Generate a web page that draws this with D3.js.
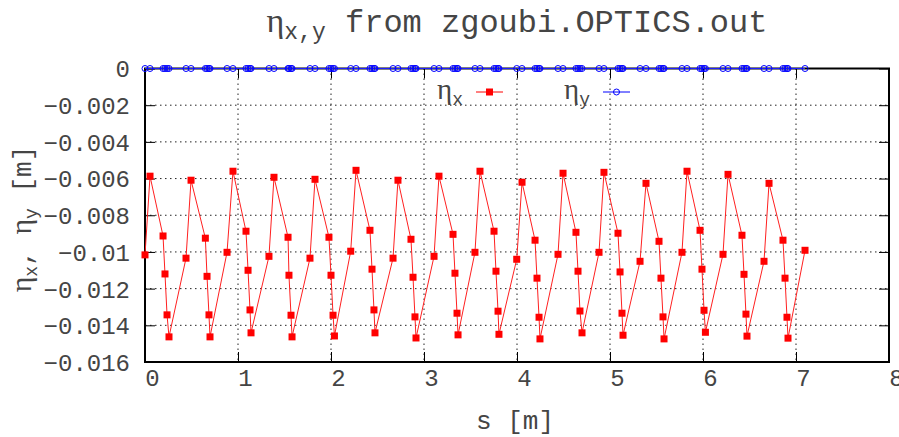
<!DOCTYPE html>
<html>
<head>
<meta charset="utf-8">
<script src="https://cdn.jsdelivr.net/npm/d3@7"></script>
<style>
  body { margin: 0; background: #fff; }
  text { font-family: "Liberation Mono", monospace; fill: #454545; }
  .greek { font-family: "Liberation Serif", serif; }
</style>
</head>
<body>
<div id="chart-area"></div>
<script>
// positions along the ring [m]
var sPos = [
  0.000, 0.054, 0.194, 0.215, 0.237, 0.258, 0.441,
  0.495, 0.649, 0.667, 0.688, 0.699, 0.882,
  0.946, 1.086, 1.108, 1.129, 1.140, 1.333,
  1.387, 1.538, 1.548, 1.570, 1.581, 1.774,
  1.828, 1.978, 2.000, 2.022, 2.037, 2.212,
  2.269, 2.419, 2.441, 2.462, 2.473, 2.667,
  2.720, 2.860, 2.882, 2.903, 2.914, 3.108,
  3.161, 3.312, 3.333, 3.355, 3.366, 3.548,
  3.602, 3.753, 3.774, 3.796, 3.806, 3.997,
  4.054, 4.194, 4.215, 4.237, 4.247, 4.441,
  4.495, 4.634, 4.656, 4.677, 4.699, 4.882,
  4.935, 5.086, 5.108, 5.129, 5.140, 5.323,
  5.387, 5.527, 5.548, 5.570, 5.581, 5.774,
  5.828, 5.968, 5.989, 6.011, 6.026, 6.215,
  6.269, 6.419, 6.441, 6.462, 6.473, 6.656,
  6.710, 6.860, 6.882, 6.903, 6.914, 7.097
];

var etaX = [
  -0.01016, -0.00587, -0.00913, -0.01120, -0.01343, -0.01463, -0.01034,
  -0.00609, -0.00925, -0.01133, -0.01343, -0.01463, -0.01002,
  -0.00560, -0.00887, -0.01100, -0.01316, -0.01441, -0.01024,
  -0.00593, -0.00920, -0.01127, -0.01345, -0.01463, -0.01034,
  -0.00604, -0.00920, -0.01127, -0.01345, -0.01458, -0.00996,
  -0.00555, -0.00882, -0.01094, -0.01316, -0.01441, -0.01034,
  -0.00609, -0.00931, -0.01138, -0.01354, -0.01469, -0.01024,
  -0.00587, -0.00904, -0.01116, -0.01334, -0.01452, -0.01002,
  -0.00560, -0.00887, -0.01105, -0.01323, -0.01449, -0.01040,
  -0.00620, -0.00936, -0.01143, -0.01356, -0.01474, -0.01013,
  -0.00571, -0.00893, -0.01105, -0.01322, -0.01441, -0.01002,
  -0.00566, -0.00898, -0.01109, -0.01334, -0.01454, -0.01051,
  -0.00626, -0.00942, -0.01143, -0.01354, -0.01474, -0.01002,
  -0.00560, -0.00882, -0.01094, -0.01318, -0.01438, -0.01013,
  -0.00577, -0.00909, -0.01122, -0.01339, -0.01459, -0.01051,
  -0.00626, -0.00936, -0.01143, -0.01356, -0.01470, -0.00991
];

var etaY = [
  0, 0, 0, 0, 0, 0, 0,
  0, 0, 0, 0, 0, 0,
  0, 0, 0, 0, 0, 0,
  0, 0, 0, 0, 0, 0,
  0, 0, 0, 0, 0, 0,
  0, 0, 0, 0, 0, 0,
  0, 0, 0, 0, 0, 0,
  0, 0, 0, 0, 0, 0,
  0, 0, 0, 0, 0, 0,
  0, 0, 0, 0, 0, 0,
  0, 0, 0, 0, 0, 0,
  0, 0, 0, 0, 0, 0,
  0, 0, 0, 0, 0, 0,
  0, 0, 0, 0, 0, 0,
  0, 0, 0, 0, 0, 0,
  0, 0, 0, 0, 0, 0
];

var xTicks = [0, 1, 2, 3, 4, 5, 6, 7, 8];
var xTickLabels = ["0", "1", "2", "3", "4", "5", "6", "7", "8"];
var yTicks = [0, -0.002, -0.004, -0.006, -0.008, -0.01, -0.012, -0.014, -0.016];
var yTickLabels = ["0", "\u22120.002", "\u22120.004", "\u22120.006", "\u22120.008",
                   "\u22120.01", "\u22120.012", "\u22120.014", "\u22120.016"];

var W = 899, H = 437;
var margin = {left: 145, right: 10, top: 68.5, bottom: 75};
var width = W - margin.left - margin.right;
var height = H - margin.top - margin.bottom;

var svg = d3.select("#chart-area")
    .append("svg")
    .attr("width", W)
    .attr("height", H);

var g = svg.append("g")
    .attr("transform", "translate(" + margin.left + "," + margin.top + ")");

var x = d3.scaleLinear().domain([0, 8]).range([0, width]);
var y = d3.scaleLinear().domain([-0.016, 0]).range([height, 0]);

// dotted grid
g.append("g").selectAll("line")
    .data(xTicks.slice(1, -1))
    .enter().append("line")
    .attr("x1", function(d){ return x(d); })
    .attr("x2", function(d){ return x(d); })
    .attr("y1", 0).attr("y2", height)
    .attr("stroke", "#222").attr("stroke-width", 1)
    .attr("stroke-dasharray", "1.5,3.5");

g.append("g").selectAll("line")
    .data(yTicks.slice(1, -1))
    .enter().append("line")
    .attr("y1", function(d){ return y(d); })
    .attr("y2", function(d){ return y(d); })
    .attr("x1", 0).attr("x2", width)
    .attr("stroke", "#222").attr("stroke-width", 1)
    .attr("stroke-dasharray", "1.5,3.5");

// axes with inward ticks on all four sides
var tickLen = 10;
var xAxisCall = d3.axisBottom(x).tickValues(xTicks).tickSizeInner(-tickLen).tickSizeOuter(0)
    .tickFormat(function(d, i){ return xTickLabels[i]; });
var xAxis = g.append("g")
    .attr("transform", "translate(0," + height + ")")
    .call(xAxisCall);
xAxis.select(".domain").remove();
xAxis.selectAll("line").attr("stroke", "#000");
xAxis.selectAll("text")
    .attr("y", 24)
    .attr("dy", 0)
    .attr("x", 7)
    .attr("font-size", "24px")
    .attr("fill", "#454545")
    .attr("font-family", "Liberation Mono");

var xTop = g.append("g").call(d3.axisTop(x).tickValues(xTicks).tickSizeInner(-tickLen).tickSizeOuter(0).tickFormat(""));
xTop.select(".domain").remove();
xTop.selectAll("line").attr("stroke", "#000");

var yAxisCall = d3.axisLeft(y).tickValues(yTicks).tickSizeInner(-tickLen).tickSizeOuter(0)
    .tickFormat(function(d, i){ return yTickLabels[i]; });
var yAxis = g.append("g").call(yAxisCall);
yAxis.select(".domain").remove();
yAxis.selectAll("line").attr("stroke", "#000");
yAxis.selectAll("text")
    .attr("x", -15)
    .attr("dy", "0.35em")
    .attr("font-size", "24px")
    .attr("fill", "#454545")
    .attr("font-family", "Liberation Mono");

var yRight = g.append("g")
    .attr("transform", "translate(" + width + ",0)")
    .call(d3.axisRight(y).tickValues(yTicks).tickSizeInner(-tickLen).tickSizeOuter(0).tickFormat(""));
yRight.select(".domain").remove();
yRight.selectAll("line").attr("stroke", "#000");

// frame
g.append("rect")
    .attr("x", 0).attr("y", 0)
    .attr("width", width).attr("height", height)
    .attr("fill", "none")
    .attr("stroke", "#000")
    .attr("stroke-width", 2);

// eta_x
var lineX = d3.line()
    .x(function(d, i){ return x(sPos[i]); })
    .y(function(d){ return y(d); });

g.append("path")
    .datum(etaX)
    .attr("d", lineX)
    .attr("fill", "none")
    .attr("stroke", "#ff2020")
    .attr("stroke-width", 1);

g.selectAll(".sqx")
    .data(etaX)
    .enter().append("rect")
    .attr("class", "sqx")
    .attr("x", function(d, i){ return x(sPos[i]) - 3.5; })
    .attr("y", function(d){ return y(d) - 3.5; })
    .attr("width", 7).attr("height", 7)
    .attr("fill", "#ff0000");

// eta_y
g.append("path")
    .datum(etaY)
    .attr("d", lineX)
    .attr("fill", "none")
    .attr("stroke", "#2020ff")
    .attr("stroke-width", 1);

g.selectAll(".cy")
    .data(etaY)
    .enter().append("circle")
    .attr("class", "cy")
    .attr("cx", function(d, i){ return x(sPos[i]); })
    .attr("cy", function(d){ return y(d); })
    .attr("r", 3)
    .attr("fill", "none")
    .attr("stroke", "#0000ff")
    .attr("stroke-width", 1);

// legend
var legend = [
  {sub: "x", color: "#ff0000", tx: 463, lx: 476, type: "sq"},
  {sub: "y", color: "#0000ff", tx: 590, lx: 603, type: "ci"}
];
legend.forEach(function(l){
  var t = svg.append("text")
      .attr("x", l.tx).attr("y", 99)
      .attr("text-anchor", "end")
      .attr("font-size", "24px");
  t.append("tspan").attr("class", "greek").attr("font-size", "29px").text("\u03b7");
  t.append("tspan").attr("font-size", "18px").attr("dy", 6).text(l.sub);
  svg.append("line")
      .attr("x1", l.lx).attr("x2", l.lx + 27)
      .attr("y1", 92).attr("y2", 92)
      .attr("stroke", l.color).attr("stroke-width", 1);
  if (l.type == "sq") {
    svg.append("rect").attr("x", l.lx + 10).attr("y", 88.5)
        .attr("width", 7).attr("height", 7).attr("fill", l.color);
  } else {
    svg.append("circle").attr("cx", l.lx + 13.5).attr("cy", 92).attr("r", 3)
        .attr("fill", "none").attr("stroke", l.color);
  }
});

// title
var title = svg.append("text")
    .attr("x", 517).attr("y", 32)
    .attr("text-anchor", "middle")
    .attr("font-size", "32px");
title.append("tspan").attr("class", "greek").attr("font-size", "34px").text("\u03b7");
title.append("tspan").attr("font-size", "23px").attr("dy", 7).text("x,y");
title.append("tspan").attr("dy", -7).text(" from zgoubi.OPTICS.out");

// axis labels
svg.append("text")
    .attr("x", 515).attr("y", 429)
    .attr("text-anchor", "middle")
    .attr("font-size", "26px")
    .text("s [m]");

var yl = svg.append("text")
    .attr("transform", "translate(31,219) rotate(-90)")
    .attr("text-anchor", "middle")
    .attr("font-size", "26px");
yl.append("tspan").attr("class", "greek").attr("font-size", "30px").text("\u03b7");
yl.append("tspan").attr("font-size", "18px").attr("dy", 6).text("x");
yl.append("tspan").attr("dy", -6).text(", ");
yl.append("tspan").attr("class", "greek").attr("font-size", "30px").text("\u03b7");
yl.append("tspan").attr("font-size", "18px").attr("dy", 6).text("y");
yl.append("tspan").attr("dy", -6).text(" [m]");
</script>
</body>
</html>
